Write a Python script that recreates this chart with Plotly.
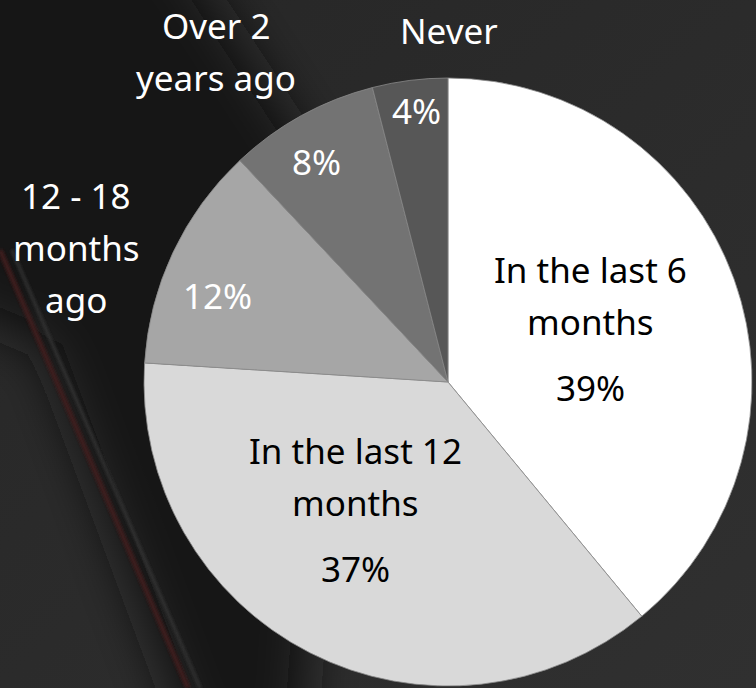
import math
import plotly.graph_objects as go

# Survey answers, clockwise from 12 o'clock
categories = ["In the last 6 months", "In the last 12 months", "12 - 18 months ago",
              "Over 2 years ago", "Never"]
shares = [39, 37, 12, 8, 4]
name_lines = [["In the last 6", "months"], ["In the last 12", "months"],
              ["12 - 18", "months", "ago"], ["Over 2", "years ago"], ["Never"]]

slice_colors = ["#ffffff", "#d9d9d9", "#a6a6a6", "#737373", "#575757"]

# canvas / pie geometry (pixels)
W, H = 756, 688
CX, CY, R = 448, 382, 304
FONT = "Noto Sans"
FS = 35
LINE_GAP = 52
PCT_GAP = 66

# label placement: angle offset from slice middle (deg) and radius fraction
label_style = [
    dict(inside=True, dang=-1.0, rf=0.50, color="#000000"),
    dict(inside=True, dang=9.0, rf=0.52, color="#000000"),
    dict(inside=False, dang=-4.6, rf=0.81, color="#ffffff", ndang=-5.3, nrf=1.30),
    dict(inside=False, dang=-1.9, rf=0.845, color="#ffffff", ndang=-6.3, nrf=1.33),
    dict(inside=False, dang=0.5, rf=0.90, color="#ffffff", ndang=7.4, nrf=1.155),
]

# background: dark desk-like backdrop as an inline svg
FILTER_BOX = "filterUnits='userSpaceOnUse' x='-100' y='-100' width='956' height='888'"
bg_svg = (
    "<svg xmlns='http://www.w3.org/2000/svg' width='756' height='688' viewBox='0 0 756 688'>"
    f"<defs><filter id='b' {FILTER_BOX}><feGaussianBlur stdDeviation='26'/></filter>"
    f"<filter id='s' {FILTER_BOX}><feGaussianBlur stdDeviation='1.5'/></filter>"
    "<linearGradient id='g' x1='0' y1='0' x2='1' y2='1'>"
    "<stop offset='0' stop-color='#262626'/><stop offset='1' stop-color='#303030'/>"
    "</linearGradient></defs>"
    "<rect width='756' height='688' fill='url(#g)'/>"
    "<polygon points='-60,-60 170,-60 340,200 300,748 195,748 45,344 -60,300' "
    "fill='#151515' filter='url(#b)'/>"
    "<line x1='0' y1='250' x2='188' y2='688' stroke='#3e1a1a' stroke-width='5' filter='url(#s)'/>"
    "<line x1='12' y1='250' x2='200' y2='688' stroke='#333333' stroke-width='3' filter='url(#s)'/>"
    "</svg>"
)
bg_uri = "data:image/svg+xml;utf8," + bg_svg.replace("#", "%23")

fig = go.Figure(go.Pie(
    labels=categories,
    values=shares,
    sort=False,
    direction="clockwise",
    rotation=0,
    textinfo="none",
    hoverinfo="label+percent",
    marker=dict(colors=slice_colors, line=dict(color="#8a8a8a", width=0.8)),
    domain=dict(x=[(CX - R) / W, (CX + R) / W],
                y=[(H - CY - R) / H, (H - CY + R) / H]),
    showlegend=False,
))


def polar(theta_deg, rf):
    t = math.radians(theta_deg)
    px = CX + rf * R * math.sin(t)
    py = CY - rf * R * math.cos(t)
    return px / W, 1 - py / H


def add_block(lines, gaps, theta, rf, color):
    x, y = polar(theta, rf)
    offs = [0]
    for g in gaps:
        offs.append(offs[-1] + g)
    mid = (offs[0] + offs[-1]) / 2
    for text, o in zip(lines, offs):
        fig.add_annotation(x=x, y=y, xref="paper", yref="paper", text=text,
                           showarrow=False, xanchor="center", yanchor="middle",
                           yshift=-(o - mid),
                           font=dict(family=FONT, size=FS, color=color))


total = sum(shares)
start = 0.0
for cat_lines, share, st in zip(name_lines, shares, label_style):
    span = 360.0 * share / total
    mid_angle = start + span / 2
    start += span
    pct = f"{round(100 * share / total)}%"
    if st["inside"]:
        lines = cat_lines + [pct]
        gaps = [LINE_GAP] * (len(cat_lines) - 1) + [PCT_GAP]
        add_block(lines, gaps, mid_angle + st["dang"], st["rf"], st["color"])
    else:
        add_block([pct], [], mid_angle + st["dang"], st["rf"], st["color"])
        add_block(cat_lines, [LINE_GAP] * (len(cat_lines) - 1),
                  mid_angle + st["ndang"], st["nrf"], "#ffffff")

fig.update_layout(
    width=W, height=H,
    margin=dict(l=0, r=0, t=0, b=0),
    paper_bgcolor="#2a2a2a",
    plot_bgcolor="#2a2a2a",
    images=[dict(source=bg_uri, xref="paper", yref="paper", x=0, y=1,
                 sizex=1, sizey=1, xanchor="left", yanchor="top",
                 sizing="stretch", layer="below")],
)

fig.write_html("out.html")
